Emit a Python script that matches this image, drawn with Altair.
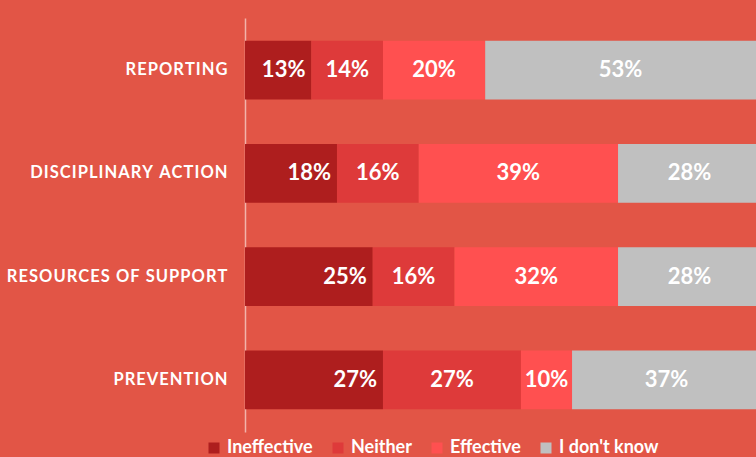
import altair as alt
import pandas as pd

categories = ["REPORTING", "DISCIPLINARY ACTION", "RESOURCES OF SUPPORT", "PREVENTION"]
series = ["Ineffective", "Neither", "Effective", "I don't know"]
ineffective = [13, 18, 25, 27]
neither = [14, 16, 16, 27]
effective = [20, 39, 32, 10]
dont_know = [53, 28, 28, 37]
colors = ["#AE1E1E", "#DE3A3A", "#FF5050", "#C0C0C0"]

HAIR = "\u200a"
def spaced(s):
    return HAIR.join(list(s))

rows = []
for i, c in enumerate(categories):
    start = 0
    for j, (s, vals) in enumerate(zip(series, [ineffective, neither, effective, dont_know])):
        v = vals[i]
        rows.append({
            "cat": spaced(c), "series": s, "order": j, "value": v,
            "start": start, "end": start + v, "mid": start + v / 2,
            "label": f"{v}%",
        })
        start += v
df = pd.DataFrame(rows)
cat_order = [spaced(c) for c in categories]

x_scale = alt.Scale(domain=[0, 100], nice=False, zero=False)
y_enc = alt.Y("cat:N", sort=cat_order,
              scale=alt.Scale(paddingInner=0.43, paddingOuter=0.22),
              axis=alt.Axis(title=None, ticks=False, domainColor="#F2B3AA", domainWidth=1.5,
                            labelColor="white", labelFont="Lato", labelFontWeight="bold",
                            labelFontSize=16.5, labelPadding=18, labelLimit=0, grid=False))

bars = alt.Chart(df).mark_bar(clip=True).encode(
    x=alt.X("start:Q", scale=x_scale, axis=None),
    x2="end:Q",
    y=y_enc,
    color=alt.Color("series:N", sort=series,
                    scale=alt.Scale(domain=series, range=colors),
                    legend=alt.Legend(title=None, orient="none", direction="horizontal",
                                      legendX=-40, legendY=421,
                                      symbolType="square", symbolSize=121, symbolStrokeWidth=0,
                                      labelColor="white", labelFont="Lato", labelFontWeight="bold",
                                      labelFontSize=18, columnPadding=16, labelOffset=4)),
    order="order:Q",
)

first = df[df["order"] == 0]
rest = df[df["order"] > 0]

text_first = alt.Chart(first).mark_text(align="right", dx=-6, color="white", font="Lato",
                                        fontWeight="bold", fontSize=22).encode(
    x=alt.X("end:Q", scale=x_scale), y=alt.Y("cat:N", sort=cat_order), text="label:N")
text_rest = alt.Chart(rest).mark_text(align="center", color="white", font="Lato",
                                      fontWeight="bold", fontSize=22, clip=True).encode(
    x=alt.X("mid:Q", scale=x_scale), y=alt.Y("cat:N", sort=cat_order), text="label:N")

chart = alt.layer(bars, text_first, text_rest).properties(
    width=511, height=414,
    background="#E25546",
    padding={"left": 245, "top": 18, "right": 0, "bottom": 25},
    autosize=alt.AutoSizeParams(type="none"),
).configure_view(stroke=None)

chart.save("out.html", embed_options={"renderer": "svg", "actions": False})
